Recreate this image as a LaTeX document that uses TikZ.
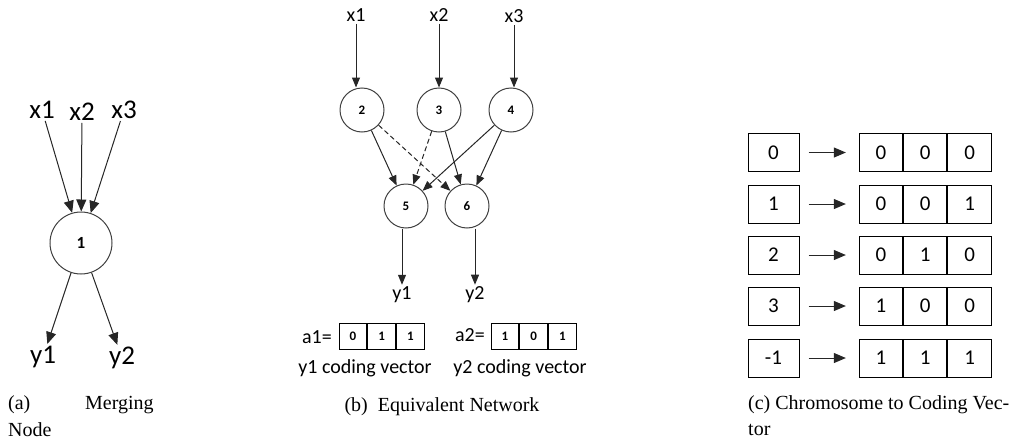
\documentclass[tikz,border=0pt]{standalone}
\usepackage{fontspec}
\setmainfont{Liberation Serif}
\newfontfamily\calfont{Carlito}
\usetikzlibrary{arrows.meta}

\tikzset{
  netnode/.style={circle, draw=black!75, line width=1pt, minimum size=44pt, inner sep=0pt,
    font=\calfont\fontsize{13}{15}\selectfont\bfseries},
  bignode/.style={netnode, minimum size=62pt, font=\calfont\fontsize{17}{19}\selectfont\bfseries},
  lbl/.style={font=\calfont\fontsize{20}{23}\selectfont, inner sep=2pt},
  biglbl/.style={font=\calfont\fontsize{27}{30}\selectfont, inner sep=2pt},
  arr/.style={-{Triangle[length=10pt,width=8pt]}, line width=1pt, black!85},
  bigarr/.style={-{Triangle[length=12pt,width=10pt]}, line width=1pt, black!85},
  cell/.style={draw, line width=1pt, minimum width=27.7pt, minimum height=26pt, inner sep=0pt,
    font=\calfont\fontsize{13}{15}\selectfont\bfseries},
  chrom/.style={draw, line width=1pt, minimum width=51pt, minimum height=38pt, inner sep=0pt,
    font=\calfont\fontsize{21}{24}\selectfont},
  gene/.style={chrom, minimum width=43.3pt},
  caption/.style={font=\fontsize{20}{24}\selectfont, inner sep=0pt, anchor=west},
}

\begin{document}
\begin{tikzpicture}[x=1pt, y=-1pt]
\useasboundingbox (0,0) rectangle (1015,442);

% (a) merging node
\node[bignode] (n1) at (81,243) {1};
\node[biglbl] (ax1) at (42,110) {x1};
\node[biglbl] (ax2) at (82,112) {x2};
\node[biglbl] (ax3) at (124,110) {x3};
\node[biglbl] (ay1) at (43,357) {y1};
\node[biglbl] (ay2) at (122,358) {y2};

\draw[bigarr] (ax1) -- (n1);
\draw[bigarr] (ax2) -- (n1);
\draw[bigarr] (ax3) -- (n1);
\draw[bigarr] (n1) -- (ay1);
\draw[bigarr] (n1) -- (ay2);

\node[caption] (capa) at (8,405) {(a)};
\node[caption] (capa2) at (85,405) {Merging};
\node[caption] (capa3) at (8,430) {Node};

% (b) equivalent network
\node[lbl] (bx1) at (356,15) {x1};
\node[lbl] (bx2) at (439,15) {x2};
\node[lbl] (bx3) at (514,16) {x3};

\node[netnode] (n2) at (362,110) {2};
\node[netnode] (n3) at (439,110) {3};
\node[netnode] (n4) at (511,110) {4};
\node[netnode] (n5) at (406,206) {5};
\node[netnode] (n6) at (467,206) {6};

\node[lbl] (by1) at (402,295) {y1};
\node[lbl] (by2) at (475,295) {y2};

\draw[arr] (bx1) -- (bx1 |- n2.north);
\draw[arr] (bx2) -- (n3);
\draw[arr] (bx3) -- (bx3 |- n4.north);

\draw[arr] (n2) -- (n5);
\draw[arr, dash pattern=on 5pt off 3pt] (n2) -- (n6);
\draw[arr, dash pattern=on 5pt off 3pt] (n3) -- (n5);
\draw[arr] (n3) -- (n6);
\draw[arr] (n4) -- (n5);
\draw[arr] (n4) -- (n6);

\draw[arr] (by1 |- n5.south) -- (by1);
\draw[arr] (by2 |- n6.south) -- (by2);

\node[lbl] (a1) at (317,337) {a1=};
\node[cell] (a11) at (353,336) {0};
\node[cell, anchor=west] (a12) at (a11.east) {1};
\node[cell, anchor=west] (a13) at (a12.east) {1};

\node[lbl] (a2) at (470,335) {a2=};
\node[cell] (a21) at (505,336) {1};
\node[cell, anchor=west] (a22) at (a21.east) {0};
\node[cell, anchor=west] (a23) at (a22.east) {1};

\node[lbl] (cv1) at (365,368) {y1 coding vector};
\node[lbl] (cv2) at (520,368) {y2 coding vector};

\node[caption, anchor=center] (capb) at (442,407) {(b)\enspace Equivalent Network};

% (c) chromosome to coding vector
\node[chrom] (c0) at (773.5,152.5) {0};
\node[chrom] (c1) at (773.5,204) {1};
\node[chrom] (c2) at (773.5,255) {2};
\node[chrom] (c3) at (773.5,306) {3};
\node[chrom] (c4) at (773.5,358) {-1};

\node[gene] (g0a) at (881,152.5) {0};
\node[gene, anchor=west] (g0b) at (g0a.east) {0};
\node[gene, anchor=west] (g0c) at (g0b.east) {0};

\node[gene] (g1a) at (881,204) {0};
\node[gene, anchor=west] (g1b) at (g1a.east) {0};
\node[gene, anchor=west] (g1c) at (g1b.east) {1};

\node[gene] (g2a) at (881,255) {0};
\node[gene, anchor=west] (g2b) at (g2a.east) {1};
\node[gene, anchor=west] (g2c) at (g2b.east) {0};

\node[gene] (g3a) at (881,306) {1};
\node[gene, anchor=west] (g3b) at (g3a.east) {0};
\node[gene, anchor=west] (g3c) at (g3b.east) {0};

\node[gene] (g4a) at (881,358) {1};
\node[gene, anchor=west] (g4b) at (g4a.east) {1};
\node[gene, anchor=west] (g4c) at (g4b.east) {1};

\draw[bigarr, shorten <=9pt, shorten >=13pt] (c0) -- (g0a);
\draw[bigarr, shorten <=9pt, shorten >=13pt] (c1) -- (g1a);
\draw[bigarr, shorten <=9pt, shorten >=13pt] (c2) -- (g2a);
\draw[bigarr, shorten <=9pt, shorten >=13pt] (c3) -- (g3a);
\draw[bigarr, shorten <=9pt, shorten >=13pt] (c4) -- (g4a);

\node[caption] (capc) at (748,405) {(c) Chromosome to Coding Vec-};
\node[caption] (capc2) at (748,430) {tor};

\end{tikzpicture}
\end{document}
